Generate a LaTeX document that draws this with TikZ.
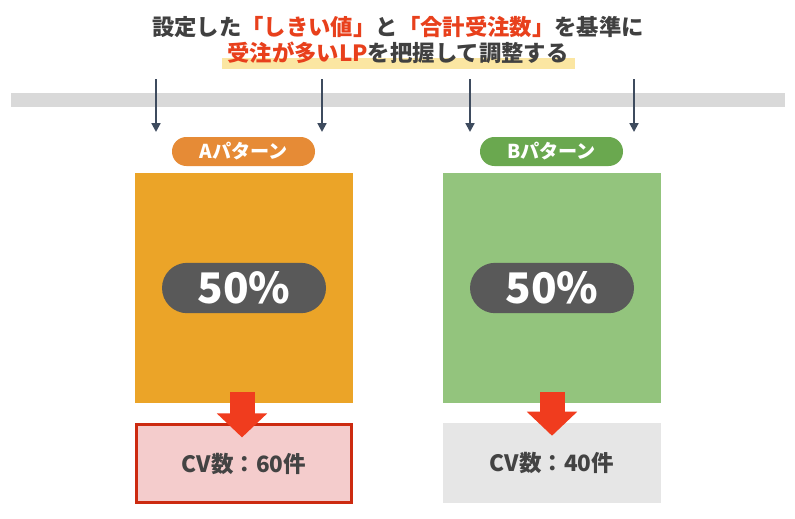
\documentclass[tikz,border=0pt]{standalone}
\usepackage{fontspec}
\setmainfont{Noto Sans CJK JP}
\usetikzlibrary{arrows.meta}

\definecolor{titlegray}{HTML}{404040}
\definecolor{titlered}{HTML}{E8401C}
\definecolor{hilite}{HTML}{FBE6A2}
\definecolor{bargray}{HTML}{D9D9D9}
\definecolor{arrowdark}{HTML}{3E4B5E}
\definecolor{tagA}{HTML}{E68B36}
\definecolor{boxA}{HTML}{EBA428}
\definecolor{tagB}{HTML}{6AA84F}
\definecolor{boxB}{HTML}{93C47D}
\definecolor{pctgray}{HTML}{595959}
\definecolor{redarrow}{HTML}{F03C1E}
\definecolor{cvAfill}{HTML}{F4CCCC}
\definecolor{cvAline}{HTML}{CC2A10}
\definecolor{cvBfill}{HTML}{E6E6E6}
\definecolor{cvtext}{HTML}{434343}

\begin{document}
\begin{tikzpicture}[x=0.25mm,y=-0.25mm,
  headline/.style={text=titlegray,inner sep=0,font=\fontsize{15.9}{18}\selectfont\bfseries},
  box/.style={minimum width=54.5mm,minimum height=57.5mm,inner sep=0},
  tag/.style={rounded corners=3.6mm,minimum width=35.75mm,minimum height=7.25mm,inner sep=0,text=white,font=\fontsize{13.6}{15}\selectfont\bfseries},
  rate/.style={fill=pctgray,rounded corners=6.3mm,minimum width=41mm,minimum height=12.6mm,inner sep=0,text=white,font=\fontsize{30}{34}\selectfont\bfseries},
  result/.style={minimum width=54.5mm,minimum height=20mm,inner sep=0,text=cvtext,font=\fontsize{16}{18}\selectfont\bfseries},
  down/.style={draw=redarrow,line width=6.25mm,-{Triangle[width=12.25mm,length=6mm]}},
  tick/.style={draw=arrowdark,line width=0.5mm,-{Triangle[width=2.2mm,length=2.2mm]}}]
  \useasboundingbox (0,0) rectangle (795,518);

  % heading
  \node[fill=hilite,minimum width=88.25mm,minimum height=2.75mm,inner sep=0] (mark) at (398.5,63.5) {};
  \node[headline] (head1) at (398,27) {設定した\textcolor{titlered}{「しきい値」}と\textcolor{titlered}{「合計受注数」}を基準に};
  \node[headline] (head2) at (398,53) {\textcolor{titlered}{受注が多いLP}を把握して調整する};

  % timeline
  \node[fill=bargray,minimum width=193.5mm,minimum height=3.5mm,inner sep=0] (bar) at (398,100) {};
  \foreach \i/\x in {1/156,2/322,3/470,4/634} {
    \coordinate (top\i) at (\x,79);
    \coordinate (end\i) at (\x,132);
    \draw[tick] (top\i) -- (end\i);
  }

  % A pattern
  \node[tag,fill=tagA] (tagA) at (243.5,151.5) {Aパターン};
  \node[box,fill=boxA] (boxA) at (244,288) {};
  \node[rate] (rateA) at (244,288) {50\%};
  \node[result,fill=cvAfill,draw=cvAline,line width=0.75mm,minimum width=53.8mm,minimum height=19.3mm] (cvA) at (244,463.5) {CV数：60件};
  \draw[down] ([xshift=-0.5mm,yshift=2.75mm]boxA.south) -- ([xshift=-0.5mm,yshift=-3.5mm]cvA.north);

  % B pattern
  \node[tag,fill=tagB] (tagB) at (551.5,151.5) {Bパターン};
  \node[box,fill=boxB] (boxB) at (552,288) {};
  \node[rate] (rateB) at (552,288) {50\%};
  \node[result,fill=cvBfill] (cvB) at (552,463) {CV数：40件};
  \draw[down] ([yshift=2.75mm]boxB.south) -- ([yshift=-3.25mm]cvB.north);

\end{tikzpicture}
\end{document}
